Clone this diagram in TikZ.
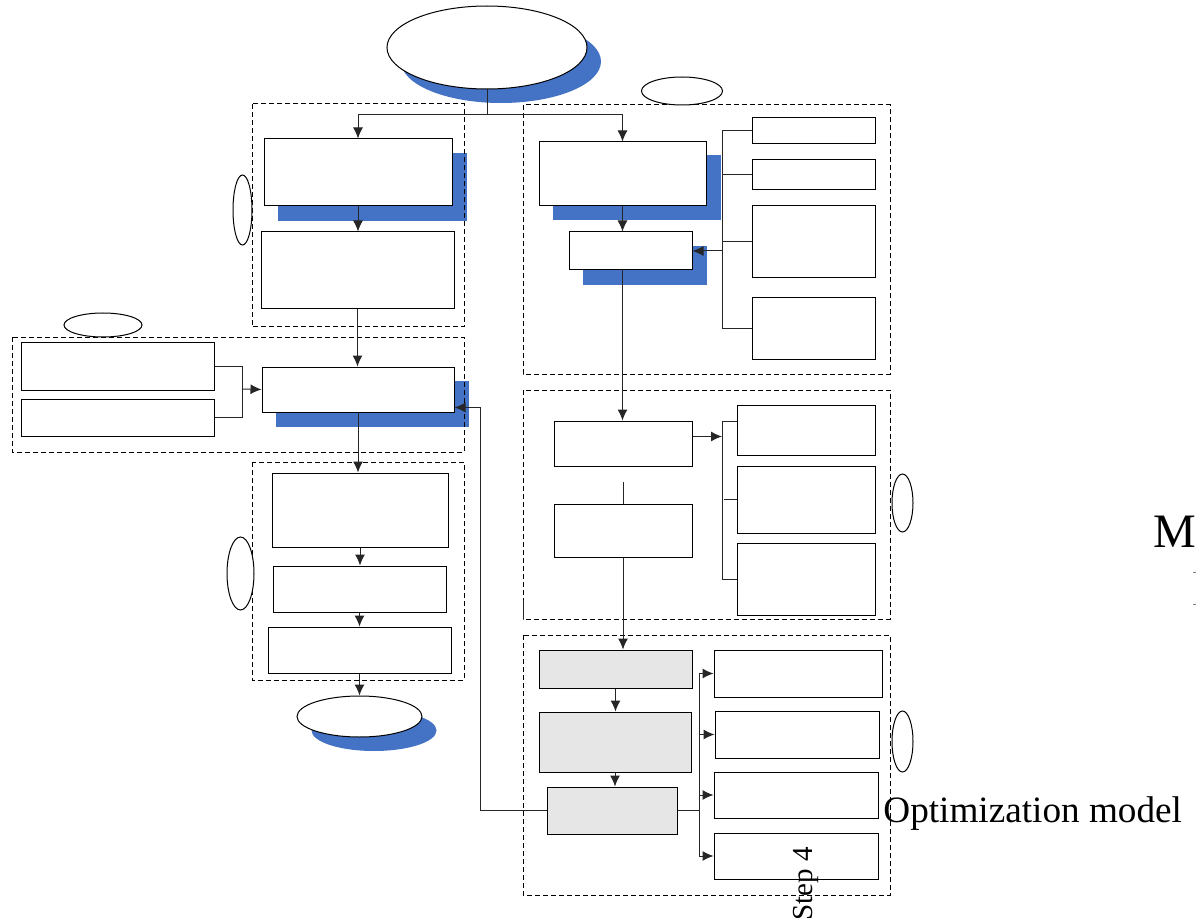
\documentclass[tikz,border=0pt]{standalone}
\usepackage{fontspec}
\setmainfont{Liberation Serif}
\usetikzlibrary{arrows.meta,shapes.geometric,fit}
\definecolor{shblue}{RGB}{68,114,196}
\definecolor{gfill}{RGB}{230,230,230}
\pgfdeclarelayer{bg}
\pgfsetlayers{bg,main}
\begin{document}
\begin{tikzpicture}[x=0.5pt,y=-0.5pt,
  box/.style={draw=black, line width=0.5pt, fill=white, inner sep=0pt, rectangle},
  gbox/.style={box, fill=gfill},
  grp/.style={draw=black, line width=0.5pt, dash pattern=on 2.5pt off 1.5pt},
  ell/.style={draw=black, line width=0.5pt, fill=white, ellipse, inner sep=0pt},
  con/.style={draw=black!85, line width=0.5pt},
  arr/.style={con, -{Latex[length=5.5pt,width=5pt]}},
  shade/.style={fill=shblue}
]
\useasboundingbox (0,0) rectangle (1196,920);

% dashed groups
\draw[grp] (252,104) rectangle (464,327);
\draw[grp] (12,337) rectangle (464,452);
\draw[grp] (252,462) rectangle (464,680);
\draw[grp] (523,105) rectangle (890,374);
\draw[grp] (523,390) rectangle (890,619);
\draw[grp] (523,635) rectangle (890,895);
\draw[con] (523,600) -- (523,619);

% ellipses
\node[ell, minimum width=100pt, minimum height=41.5pt] (top) at (487,47.5) {};
\node[ell, minimum width=40.5pt, minimum height=14pt] (e1) at (682,91) {};
\node[ell, minimum width=9.5pt, minimum height=35pt] (e2) at (242.5,210) {};
\node[ell, minimum width=39pt, minimum height=12pt] (e3) at (103,325) {};
\node[ell, minimum width=13.5pt, minimum height=36.5pt] (e4) at (240.5,573.5) {};
\node[ell, minimum width=62.5pt, minimum height=20.5pt] (bot) at (359.5,716.5) {};
\node[ell, minimum width=10.5pt, minimum height=29pt] (e5) at (902.5,503) {};
\node[ell, minimum width=10.5pt, minimum height=30.5pt] (e6) at (902.5,741.5) {};

% left column boxes
\node[box, fit={(264,139) (452,206)}] (A) {};
\node[box, fit={(261,232) (454,309)}] (B) {};
\node[box, fit={(21,342) (214,390)}] (L1) {};
\node[box, fit={(21,399) (214,436)}] (L2) {};
\node[box, fit={(262,367) (454,412)}] (M) {};
\node[box, fit={(272,473) (448,547)}] (C) {};
\node[box, fit={(273,566) (446,612)}] (D) {};
\node[box, fit={(268,627) (451,673)}] (E) {};

% right column boxes
\node[box, fit={(539,142) (706,206)}] (R1) {};
\node[box, fit={(569,232) (692,270)}] (R2) {};
\node[box, fit={(752,118) (875,144)}] (S1) {};
\node[box, fit={(752,160) (875,190)}] (S2) {};
\node[box, fit={(752,206) (875,278)}] (S3) {};
\node[box, fit={(752,298) (875,359)}] (S4) {};
\node[box, fit={(554,421) (692,466)}] (T1) {};
\node[box, fit={(554,504) (692,557)}] (T2) {};
\node[box, fit={(737,405) (875,455)}] (U1) {};
\node[box, fit={(737,466) (875,533)}] (U2) {};
\node[box, fit={(737,543) (875,615)}] (U3) {};
\node[gbox, fit={(539,650) (692,688)}] (G1) {};
\node[gbox, fit={(539,712) (691,772)}] (G2) {};
\node[gbox, fit={(547,787) (677,834)}] (G3) {};
\node[box, fit={(714,650) (882,697)}] (V1) {};
\node[box, fit={(715,711) (879,758)}] (V2) {};
\node[box, fit={(714,772) (878,818)}] (V3) {};
\node[box, fit={(714,833) (878,879)}] (V4) {};

% shadows
\begin{pgfonlayer}{bg}
\fill[shade] ([shift={(14,14)}]top.center) ellipse [x radius=50pt, y radius=20.75pt];
\fill[shade] ([shift={(14.5,14)}]bot.center) ellipse [x radius=31.25pt, y radius=10.25pt];
\fill[shade] ([shift={(14,15)}]A.south west) rectangle ([shift={(14,15)}]A.north east);
\fill[shade] ([shift={(14,14)}]M.south west) rectangle ([shift={(14,14)}]M.north east);
\fill[shade] ([shift={(14,14)}]R1.south west) rectangle ([shift={(14,14)}]R1.north east);
\fill[shade] ([shift={(14,15)}]R2.south west) rectangle ([shift={(14,15)}]R2.north east);
\end{pgfonlayer}

% connectors
\coordinate (j) at (487,115);
\coordinate (jm) at (242,389);
\coordinate (bx) at (722,0);
\coordinate (bx3) at (699,0);
\coordinate (fb) at (480,0);
\draw[con] (top.south) -- (j);
\draw[arr] (j) -| (A.north);
\draw[arr] (j) -| (R1.north);
\draw[arr] (A.south) -- (A.south |- B.north);
\draw[arr] (B.south) -- (B.south |- M.north);
\draw[con] (L1.east) -| (jm);
\draw[con] (L2.east) -| (jm);
\draw[arr] (jm) -- (M.west);
\draw[arr] (M.south) -- (M.south |- C.north);
\draw[arr] (C.south) -- (C.south |- D.north);
\draw[arr] (D.south) -- (D.south |- E.north);
\draw[arr] (E.south) -- (E.south |- bot.north);

\draw[arr] (R1.south) -- (R1.south |- R2.north);
\draw[con] (S1.west) -| (S4.west -| bx) -- (S4.west);
\draw[con] (S2.west) -- (S2.west -| bx);
\draw[con] (S3.west) -- (S3.west -| bx);
\draw[arr] (R2.east -| bx) -- (R2.east);
\draw[arr] (R1.south |- R2.south) -- (R1.south |- T1.north);

\draw[arr] ([yshift=3.5pt]T1.east) -- ([yshift=3.5pt]T1.east -| bx);
\draw[con] ([yshift=4.5pt]U1.west) -| (U3.west -| bx) -- (U3.west);
\draw[con] (U2.west) -- ++(-13,0);
\draw[con] (T2.north) -- ++(0,-22);
\draw[arr] (T2.south) -- (T2.south |- G1.north);
\draw[arr] (G1.south) -- (G1.south |- G2.north);
\draw[arr] (G2.south) -- (G2.south |- G3.north);
\draw[arr] (G3.west) -| ([yshift=-9pt]M.east -| fb) -- ([yshift=-9pt]M.east);
\draw[con] (G3.east) -- (G3.east -| bx3);
\draw[con] (V1.west -| bx3) -- (V4.west -| bx3);
\draw[arr] (V1.west -| bx3) -- (V1.west);
\draw[arr] (V2.west -| bx3) -- (V2.west);
\draw[arr] (V3.west -| bx3) -- (V3.west);
\draw[arr] (V4.west -| bx3) -- (V4.west);

% texts
\node[anchor=base west, inner sep=0pt, font=\fontsize{24}{28}\selectfont] (tm) at (1153,547) {M};
\node[anchor=base west, inner sep=0pt, font=\fontsize{18.6}{22}\selectfont] (topt) at (883,822) {Optimization model};
\node[anchor=base east, inner sep=0pt, rotate=90, font=\fontsize{14.5}{17}\selectfont] (tstep) at (812,847) {Step 4};
\draw[gray, line width=0.5pt] (1193,572) -- (1196,572);
\draw[gray, line width=0.5pt] (1193,604) -- (1196,604);
\end{tikzpicture}
\end{document}
